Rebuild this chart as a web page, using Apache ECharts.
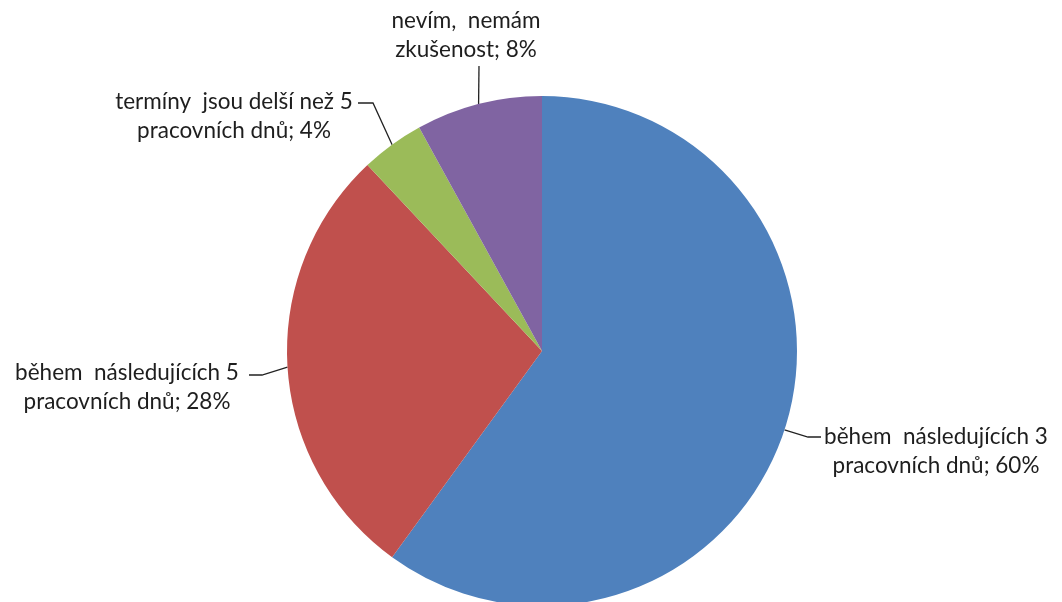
<!DOCTYPE html>
<html>
<head>
<meta charset="utf-8">
<script src="https://cdn.jsdelivr.net/npm/echarts@6/dist/echarts.min.js"></script>
<style>
  html, body { margin: 0; padding: 0; background: #fff; }
  #chart { width: 1062px; height: 602px; }
</style>
</head>
<body>
<div id="chart"></div>
<script>
// Categories and shares (%) of the pie
const categories = [
  'během  následujících 3\npracovních dnů',
  'během  následujících 5\npracovních dnů',
  'termíny  jsou delší než 5\npracovních dnů',
  'nevím,  nemám\nzkušenost'
];
const shares = [60, 28, 4, 8];
const colors = ['#4F81BD', '#C0504D', '#9BBB59', '#8064A2'];

// Label anchor placement per slice: text centre and leader bend points
const labelPlaces = [
  { x: 936, y: 451, bend: [[808, 437], [821, 437]] },
  { x: 127, y: 387, bend: [[262, 375], [249, 375]] },
  { x: 234, y: 116, bend: [[373, 103], [358, 103]] },
  { x: 466, y: 35,  bend: [[479, 66]] }
];

const chart = echarts.init(document.getElementById('chart'), null, { renderer: 'canvas' });

chart.setOption({
  animation: false,
  backgroundColor: '#ffffff',
  color: colors,
  series: [{
    type: 'pie',
    center: [542, 351],
    radius: 255,
    startAngle: 90,
    clockwise: true,
    avoidLabelOverlap: false,
    data: categories.map((name, i) => ({ name: name, value: shares[i] })),
    itemStyle: { borderWidth: 0 },
    label: {
      show: true,
      formatter: '{b}; {c}%',
      fontFamily: 'Lato, Carlito, "Noto Sans", sans-serif',
      fontSize: 22.5,
      lineHeight: 29,
      color: '#1e1e1e',
      align: 'center'
    },
    labelLine: {
      show: true,
      lineStyle: { color: '#222', width: 1.3 }
    },
    labelLayout: function (params) {
      const p = labelPlaces[params.dataIndex];
      const start = params.labelLinePoints ? params.labelLinePoints[0] : null;
      const pts = [start].concat(p.bend);
      const out = {
        x: p.x,
        y: p.y,
        align: 'center',
        verticalAlign: 'middle'
      };
      if (start) {
        out.labelLinePoints = pts.length === 2 ? [pts[0], pts[1], pts[1]] : pts;
      }
      return out;
    },
    emphasis: { disabled: true }
  }]
});
</script>
</body>
</html>
